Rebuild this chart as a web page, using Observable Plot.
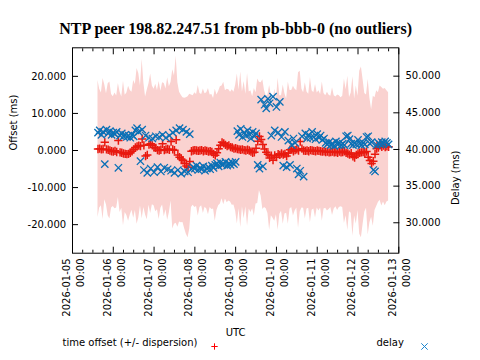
<!DOCTYPE html>
<html><head><meta charset="utf-8">
<script src="https://cdn.jsdelivr.net/npm/d3@7"></script>
<script src="https://cdn.jsdelivr.net/npm/@observablehq/plot@0.6"></script>
<style>html,body{margin:0;padding:0;background:#fff} svg{display:block}</style>
</head><body><div id="chart"></div>
<script>
const titleText = "NTP peer 198.82.247.51 from pb-bbb-0 (no outliers)";
const xLabel = "UTC";
const yLabel = "Offset (ms)";
const y2Label = "Delay (ms)";
const legendOffset = "time offset (+/- dispersion)";
const legendDelay = "delay";

// hourly samples starting 2026-01-05 15:00 UTC
const startTime = Date.UTC(2026, 0, 5, 15, 0);
const stepMinutes = 60;

const offsetMs = [
  0.4, 0.5, 0.3, 0.4, 2.2, 0.3, 0.2, 0.0, -0.2, -0.3, -0.1, -0.4,
  2.7, -0.5, -0.6, -0.8, -0.9, -1.0, -0.9, -0.6, -0.2, 0.3, 0.8, 1.1,
  1.3, 1.2, 3.1, 1.4, -1.5, -1.2, 1.6, 1.8, 1.4, 0.8, 0.7, 0.1,
  0.0, 0.2, 1.8, 0.1, 0.3, 0.4, 0.2, 2.4, 0.3, 0.1, 2.9, -1.2,
  -1.8, -2.3, -2.6, -3.5, -4.2, -4.5, -3.0, -0.2, 0.0, 0.1, 0.0, -0.1,
  0.0, 0.1, -0.2, 0.0, -0.1, -0.3, -0.2, -0.4, -0.9, -1.3, -0.6, 0.5,
  1.4, 2.2, 1.9, 1.5, 1.2, 1.4, 0.9, 0.8, 0.5, 0.6, 0.4, 0.3,
  0.2, 0.3, 0.1, 0.0, 0.2, 0.0, -0.3, -0.6, -0.5, 0.6, 2.5, 3.8,
  3.0, 1.6, 0.4, -0.5, -1.0, -2.0, -1.4, -2.6, -1.3, -1.8, -1.0, -1.2,
  -0.8, -1.1, -0.9, -1.5, -0.7, 0.2, 0.4, -0.2, 0.1, 0.3, 0.0, 2.4,
  0.5, 0.0, -0.1, 0.0, -0.2, 0.1, 0.0, -0.1, -0.2, 0.0, -0.1, -0.2,
  -0.3, -0.2, -0.4, -0.3, -0.5, -0.4, -0.3, -0.5, -0.4, -0.6, -0.3, -0.5,
  -0.4, -0.2, -0.6, -0.8, -1.1, -0.7, -1.6, -1.9, -1.2, -0.8, -0.6, -0.5,
  -0.4, -0.6, -0.3, -1.8, -2.7, -3.5, -2.9, -1.0, 0.5, 0.8, 2.0, 1.0,
  1.3, 0.9, 1.1, 1.0
];

const dispersionMs = [
  18.5, 16.0, 15.2, 19.0, 15.5, 15.0, 17.8, 18.5, 15.3, 14.8, 15.6, 15.1,
  15.4, 16.2, 15.0, 19.5, 15.8, 16.5, 18.2, 16.8, 15.9, 18.6, 17.0, 21.0,
  19.5, 16.2, 21.5, 16.8, 15.9, 17.5, 16.4, 18.8, 16.0, 15.7, 17.2, 16.1,
  18.6, 15.8, 16.5, 18.0, 16.3, 19.2, 17.0, 16.0, 21.5, 20.0, 22.5, 19.5,
  17.5, 17.2, 16.8, 17.6, 18.4, 19.0, 18.2, 15.2, 14.8, 15.5, 15.1, 17.6,
  15.4, 15.0, 16.8, 15.3, 15.7, 17.0, 15.2, 15.5, 14.9, 17.8, 15.6, 15.4,
  15.8, 15.2, 16.5, 14.6, 15.3, 15.0, 14.8, 15.6, 15.2, 17.0, 20.2, 16.0,
  21.0, 15.5, 18.5, 15.2, 20.6, 15.8, 16.4, 15.1, 17.2, 15.0, 16.8, 14.6,
  15.3, 17.5, 15.8, 15.2, 16.0, 19.5, 16.2, 15.7, 17.8, 15.5, 20.5, 16.0,
  15.6, 18.8, 16.2, 15.4, 19.2, 16.0, 15.8, 17.5, 16.4, 15.8, 21.0, 19.0,
  16.0, 15.6, 18.4, 15.8, 15.4, 19.6, 16.1, 15.7, 18.0, 15.5, 16.2, 15.3,
  18.8, 15.6, 15.2, 16.0, 15.4, 15.0, 17.2, 15.3, 14.8, 15.6, 15.1, 14.7,
  15.0, 19.5, 17.0, 20.8, 15.4, 16.2, 21.5, 15.8, 18.6, 15.4, 22.0, 23.0,
  19.5, 16.0, 15.3, 21.0, 16.8, 14.5, 17.5, 15.2, 15.6, 14.8, 15.4, 16.0,
  15.2, 15.8, 15.0, 14.6
];

const delayMs = [
  42.3, 42.6, 42.0, 42.4, 38.0, 42.7, 42.2, 42.5, 42.0, 42.3, 42.1, 42.4,
  37.5, 41.9, 42.2, 41.8, 42.0, 41.7, 41.9, 41.6, 42.0, 41.8, 42.6, 42.9,
  42.4, 38.4, 42.7, 37.2, 41.9, 36.8, 41.6, 37.4, 41.5, 36.9, 41.8, 37.6,
  41.7, 37.0, 42.0, 37.5, 41.6, 37.3, 41.9, 37.1, 42.3, 36.8, 42.6, 37.2,
  42.9, 36.7, 42.7, 37.0, 42.4, 36.9, 42.1, 37.3, 37.6, 37.4, 37.8, 37.2,
  37.5, 37.3, 37.7, 37.1, 37.4, 37.6, 37.3, 37.8, 37.5, 37.9, 38.1, 37.7,
  38.2, 37.9, 38.0, 38.3, 37.8, 38.1, 37.9, 38.2, 38.0, 38.3, 42.5, 42.0,
  42.8, 41.7, 42.3, 41.9, 42.6, 42.1, 41.5, 42.4, 41.8, 42.2, 37.9, 37.4,
  46.8, 37.7, 46.1, 45.6, 46.9, 46.3, 41.9, 47.2, 42.6, 45.8, 42.3, 46.5,
  41.7, 37.8, 42.4, 37.6, 41.2, 37.9, 40.6, 41.5, 40.9, 37.4, 36.6, 37.1,
  41.8, 36.3, 42.2, 41.5, 42.0, 41.6, 42.4, 41.7, 41.4, 42.1, 41.6, 41.9,
  41.3, 41.5, 40.9, 40.7, 41.0, 40.6, 40.8, 40.5, 41.1, 40.7, 40.9, 40.6,
  40.8, 40.6, 41.8, 41.9, 41.4, 40.8, 40.6, 40.9, 40.7, 41.3, 40.8, 40.6,
  40.9, 40.7, 41.7, 41.8, 40.8, 41.0, 37.2, 37.0, 40.6, 40.9, 40.7, 41.0,
  40.8, 41.1, 40.9, 40.7
];

const xTickDays = ["2026-01-05","2026-01-06","2026-01-07","2026-01-08","2026-01-09","2026-01-10","2026-01-11","2026-01-12","2026-01-13"];
const xTickTime = "00:00";
const leftTicks = [-20, -10, 0, 10, 20];
const rightTicks = [30, 35, 40, 45, 50];
const offsetDomain = [-27.7, 27.7];
const delayDomain = [25.85, 53.87];

const rows = offsetMs.map((o, i) => ({
  t: new Date(startTime + i * stepMinutes * 60000),
  offset: o,
  lo: o - dispersionMs[i],
  hi: o + dispersionMs[i],
  delay: delayMs[i]
}));

const toLeft = d3.scaleLinear(delayDomain, offsetDomain);
const dayDates = xTickDays.map(s => new Date(s + "T00:00:00Z"));
const minorDates = d3.utcHours(dayDates[0], dayDates[dayDates.length - 1], 6).filter(d => d.getUTCHours() !== 0);
const dayLabel = d => d3.utcFormat("%Y-%m-%d")(d) + "\n" + xTickTime;

const red = "#e8190f";
const blue = "#0b70b6";
const font = "DejaVu Sans, sans-serif";

const chart = Plot.plot({
  width: 480,
  height: 360,
  marginLeft: 72,
  marginRight: 81.7,
  marginTop: 47.3,
  marginBottom: 107.3,
  style: {fontFamily: font, fontSize: "10px", color: "black", background: "white"},
  x: {type: "utc", domain: [dayDates[0], dayDates[dayDates.length - 1]], label: null},
  y: {domain: offsetDomain, label: null},
  marks: [
    Plot.areaY(rows, {x: "t", y1: "lo", y2: "hi", fill: "#fad2d0", curve: "linear"}),
    Plot.dot(rows, {x: "t", y: "offset", symbol: "plus", r: 2.8, stroke: red, strokeWidth: 1.5}),
    Plot.dot(rows, {x: "t", y: d => toLeft(d.delay), symbol: "times", r: 3.4, stroke: blue, strokeWidth: 1.3}),
    Plot.frame({stroke: "black", strokeWidth: 1}),
    // bottom axis: major day ticks with labels
    Plot.axisX(dayDates, {anchor: "bottom", label: null, tickSize: -6, tickPadding: 11.3, tickRotate: -90, tickFormat: dayLabel, lineHeight: 1.4, fontSize: 10}),
    Plot.axisX(minorDates, {anchor: "bottom", label: null, tickSize: -3, tickFormat: () => ""}),
    Plot.axisX(dayDates, {anchor: "top", label: null, tickSize: -6, tickFormat: () => ""}),
    Plot.axisX(minorDates, {anchor: "top", label: null, tickSize: -3, tickFormat: () => ""}),
    Plot.axisY(leftTicks, {anchor: "left", label: null, tickSize: -6, tickPadding: 12.3, tickFormat: d => d.toFixed(3)}),
    Plot.axisY(rightTicks.map(toLeft), {anchor: "right", label: null, tickSize: -6, tickPadding: 12.7, tickFormat: d => toLeft.invert(d).toFixed(3)}),
    // titles and labels
    Plot.text([titleText], {frameAnchor: "top", dy: -24.9, fontFamily: "Liberation Serif, serif", fontWeight: "bold", fontSize: 16, fill: "black"}),
    Plot.text([xLabel], {frameAnchor: "bottom", dy: 83.1, fontSize: 10, fill: "black"}),
    Plot.text([yLabel], {frameAnchor: "left", dx: -58.7, rotate: -90, fontSize: 10, fill: "black"}),
    Plot.text([y2Label], {frameAnchor: "right", dx: 56.7, rotate: -90, fontSize: 10, fill: "black"}),
    // legend
    Plot.text([legendOffset], {frameAnchor: "bottom-left", dx: -10, dy: 93.1, textAnchor: "start", fontSize: 10, fill: "black"}),
    Plot.dot([0], {frameAnchor: "bottom-left", dx: 142, dy: 93.3, symbol: "plus", r: 2.2, stroke: "#ff0000", strokeWidth: 1}),
    Plot.text([legendDelay], {frameAnchor: "bottom-left", dx: 304, dy: 93.1, textAnchor: "start", fontSize: 10, fill: "black"}),
    Plot.dot([0], {frameAnchor: "bottom-left", dx: 352, dy: 93.3, symbol: "times", r: 3.0, stroke: "#1a86d0", strokeWidth: 1})
  ]
});
document.getElementById("chart").append(chart);
</script>
</body></html>
